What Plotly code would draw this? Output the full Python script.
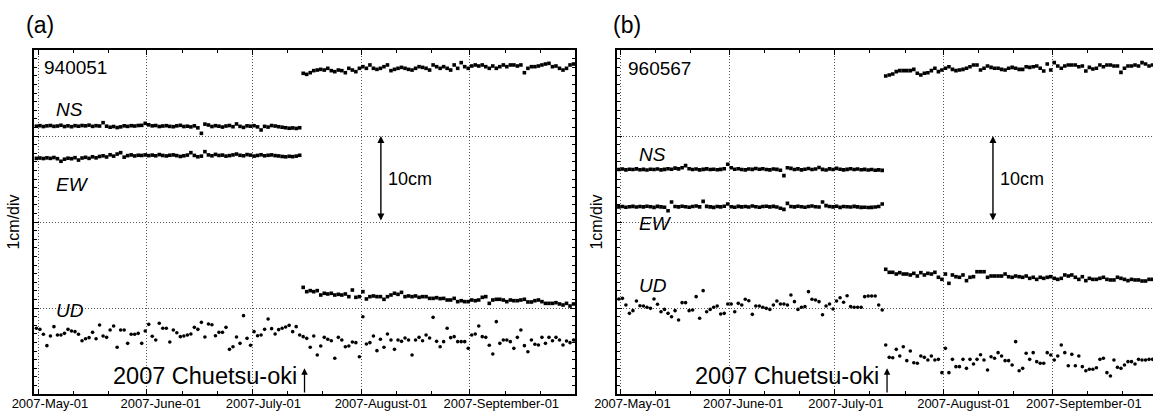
import pandas as pd
import plotly.graph_objects as go

# Daily GPS coordinates (cm, each component with its own offset)
PRE_START = "2007-04-30 12:00"
POST_START = "2007-07-15 12:00"
QUAKE = "2007-07-15 21:00"

stations = ["940051", "960567"]

# ---- station 940051 (a)
ns_pre_a = [31.14, 31.20, 31.10, 31.18, 31.22, 31.12, 31.16, 31.25, 31.10, 31.18,
            31.08, 31.20, 31.14, 31.22, 31.18, 31.26, 31.12, 31.20, 31.16, 31.55,
            31.14, 31.02, 31.10, 30.98, 31.06, 31.18, 31.12, 31.20, 31.16, 31.22,
            31.24, 31.47, 31.30, 31.18, 31.22, 31.10, 31.16, 31.20, 31.12, 31.08,
            31.18, 31.24, 31.10, 31.14, 31.06, 31.18, 30.95, 30.31, 31.38, 31.28,
            31.10, 31.20, 31.14, 31.04, 31.16, 31.22, 31.08, 31.40, 31.12, 31.00,
            31.18, 31.14, 31.20, 31.06, 30.70, 31.12, 31.04, 31.22, 31.16, 31.08,
            31.02, 30.96, 30.90, 30.94, 30.88, 30.96]
ew_pre_a = [27.40, 27.44, 27.38, 27.46, 27.40, 27.50, 27.36, 27.06, 27.30, 27.42,
            27.36, 27.48, 27.20, 27.44, 27.52, 27.40, 27.58, 27.46, 27.62, 27.70,
            27.56, 27.82, 27.66, 27.90, 28.06, 27.54, 27.72, 27.80, 27.68, 27.76,
            27.74, 27.80, 27.72, 27.78, 27.70, 27.84, 27.74, 27.68, 27.76, 27.80,
            27.72, 27.62, 27.70, 27.78, 28.06, 27.74, 27.58, 27.66, 28.18, 27.80,
            27.70, 27.86, 27.74, 27.78, 27.66, 27.72, 27.80, 27.90, 27.76, 27.70,
            27.84, 27.78, 27.66, 27.74, 27.82, 27.70, 27.76, 27.80, 27.72, 27.68,
            27.62, 27.58, 27.64, 27.60, 27.66, 27.76]
ud_pre_a = [7.64, 7.52, 6.94, 5.62, 6.74, 7.83, 6.86, 6.86, 7.05, 7.52,
            7.33, 7.25, 6.94, 6.20, 6.43, 6.55, 7.17, 6.43, 8.02, 6.74,
            6.59, 7.44, 7.91, 5.43, 7.44, 7.44, 5.89, 6.94, 6.94, 7.05,
            5.89, 7.33, 8.10, 6.71, 6.28, 8.22, 7.64, 7.64, 6.05, 7.44,
            7.13, 6.67, 6.74, 6.86, 6.98, 7.75, 7.52, 8.33, 6.63, 8.14,
            8.06, 6.78, 7.17, 7.17, 7.75, 5.19, 5.50, 6.63, 5.89, 9.11,
            6.47, 5.66, 7.25, 6.78, 6.86, 7.52, 8.72, 7.60, 6.98, 7.48,
            7.64, 7.79, 7.98, 7.25, 7.83, 6.86]
ns_post_a = [37.29, 37.17, 37.36, 37.60, 37.67, 37.75, 37.67, 37.87, 37.60, 37.48,
             37.67, 37.60, 37.36, 37.87, 37.67, 37.48, 37.87, 38.06, 37.87, 38.26,
             37.87, 37.75, 37.87, 38.06, 38.26, 37.60, 37.75, 37.87, 37.98, 37.87,
             37.75, 37.67, 37.87, 38.06, 37.98, 37.87, 37.67, 38.26, 38.06, 37.87,
             38.06, 37.87, 37.67, 38.26, 37.87, 38.53, 38.06, 37.87, 38.14, 38.26,
             38.14, 38.26, 38.06, 37.87, 38.14, 37.87, 38.06, 38.26, 38.06, 38.26,
             38.26, 38.14, 38.26, 37.36, 37.87, 38.06, 38.06, 38.14, 38.26, 38.37,
             38.45, 38.06, 38.14, 37.87, 37.67, 37.87, 38.26, 38.37]
ew_post_a = [12.40, 11.90, 12.02, 11.90, 12.02, 11.51, 11.71, 11.63, 11.71, 11.51,
             11.59, 11.51, 11.63, 11.32, 12.09, 11.24, 11.32, 11.90, 11.05, 11.32,
             11.40, 11.32, 11.32, 11.01, 11.32, 11.51, 11.71, 11.59, 11.82, 11.32,
             11.40, 11.32, 11.40, 11.24, 11.32, 11.32, 11.12, 11.12, 11.20, 11.09,
             11.12, 10.93, 10.93, 11.12, 10.74, 10.85, 10.74, 10.74, 10.93, 10.85,
             10.93, 11.24, 11.32, 10.54, 10.93, 11.01, 11.01, 10.93, 10.74, 10.93,
             10.85, 10.85, 10.93, 11.01, 10.70, 10.70, 10.85, 10.93, 10.74, 10.54,
             10.54, 10.54, 10.62, 10.47, 10.35, 10.54, 10.23, 10.47]
ud_post_a = [6.67, 6.47, 5.43, 6.74, 4.53, 5.58, 6.59, 6.36, 6.20, 4.15,
             6.59, 6.28, 5.50, 5.58, 6.05, 5.97, 4.34, 8.99, 5.81, 5.97,
             6.74, 5.04, 6.36, 5.43, 6.98, 6.28, 5.19, 6.28, 6.12, 6.51,
             6.28, 4.53, 6.28, 6.59, 6.20, 6.86, 6.51, 8.91, 6.12, 5.50,
             6.09, 7.64, 6.55, 6.67, 6.09, 6.09, 6.09, 5.31, 6.86, 6.98,
             7.91, 6.67, 6.59, 5.66, 4.65, 8.41, 5.89, 6.28, 6.28, 6.09,
             5.31, 6.59, 7.44, 5.62, 4.92, 6.28, 5.78, 5.70, 6.59, 5.89,
             6.59, 6.20, 6.59, 6.28, 5.70, 6.16, 5.97, 6.28]

# ---- station 960567 (b)
ns_pre_b = [26.10, 26.16, 26.06, 26.14, 26.10, 26.18, 26.08, 26.12, 26.04, 26.14,
            26.10, 26.16, 26.06, 26.12, 26.20, 26.14, 26.26, 26.18, 26.30, 26.55,
            26.20, 26.10, 26.16, 26.06, 26.12, 26.18, 26.10, 26.14, 26.08, 26.12,
            26.20, 26.71, 26.30, 26.14, 26.20, 26.10, 26.06, 26.16, 26.12, 26.22,
            26.14, 26.20, 26.10, 26.06, 26.16, 26.12, 26.02, 25.39, 26.30, 26.24,
            26.10, 26.18, 26.06, 26.14, 26.22, 26.10, 26.16, 26.34, 26.12, 26.04,
            26.18, 26.10, 26.24, 26.14, 26.06, 26.12, 26.20, 26.10, 26.16, 26.08,
            26.12, 26.04, 26.10, 26.02, 26.06, 26.00]
ew_pre_b = [21.76, 21.80, 21.72, 21.78, 21.82, 21.74, 21.80, 21.76, 21.84, 21.78,
            21.70, 21.82, 21.76, 21.72, 21.30, 22.33, 21.80, 21.76, 21.84, 21.78,
            21.72, 21.80, 21.86, 21.76, 22.40, 21.82, 21.76, 21.70, 21.80, 21.76,
            21.84, 22.10, 21.78, 21.72, 21.82, 21.76, 21.80, 21.74, 21.86, 21.78,
            21.72, 21.80, 21.84, 21.76, 21.82, 21.74, 21.60, 21.47, 22.17, 21.80,
            21.76, 21.84, 21.78, 21.72, 21.80, 21.86, 21.78, 21.74, 22.33, 21.90,
            21.80, 21.76, 21.84, 21.70, 21.80, 21.78, 21.74, 21.82, 21.76, 21.70,
            21.72, 21.68, 21.70, 21.74, 21.80, 22.10]
ud_pre_b = [11.05, 11.12, 10.35, 9.38, 9.69, 10.81, 10.27, 10.23, 10.08, 9.96,
            11.05, 10.43, 9.57, 9.84, 9.38, 8.99, 9.69, 8.60, 10.62, 10.62,
            9.69, 9.77, 11.32, 8.80, 12.02, 9.57, 9.84, 10.08, 10.23, 9.30,
            9.38, 10.47, 10.47, 9.57, 10.54, 10.35, 11.01, 10.85, 9.26, 10.23,
            10.23, 10.08, 9.96, 9.84, 10.35, 10.81, 10.47, 10.47, 10.35, 11.51,
            10.74, 9.84, 10.08, 10.16, 11.90, 11.01, 10.93, 10.74, 9.22, 10.23,
            10.47, 9.88, 10.81, 11.20, 10.66, 11.43, 10.16, 10.08, 10.08, 10.08,
            11.32, 11.40, 11.40, 11.40, 10.35, 9.77]
ns_post_b = [36.98, 37.09, 37.21, 37.48, 37.60, 37.60, 37.60, 37.60, 37.75, 37.29,
             37.09, 37.29, 37.36, 37.60, 37.87, 37.48, 37.67, 37.87, 38.06, 37.75,
             37.60, 37.67, 37.75, 37.87, 38.06, 38.26, 38.26, 37.67, 37.87, 38.14,
             37.98, 37.87, 37.87, 37.75, 37.67, 37.87, 37.98, 37.87, 37.75, 37.75,
             38.06, 37.98, 38.06, 38.14, 37.87, 37.56, 38.37, 37.67, 38.53, 38.14,
             37.87, 38.14, 38.26, 38.26, 38.26, 38.06, 38.14, 37.56, 37.98, 37.79,
             37.87, 38.26, 38.06, 38.26, 38.26, 38.14, 38.14, 37.40, 37.87, 38.14,
             38.14, 38.26, 38.14, 38.53, 38.37, 38.14, 38.26, 38.20]
ew_post_b = [14.50, 14.15, 14.15, 13.95, 14.11, 13.95, 13.95, 13.84, 14.03, 13.72,
             14.11, 13.84, 14.03, 13.95, 14.15, 13.57, 13.33, 13.95, 12.87, 13.84,
             13.64, 13.57, 13.84, 13.18, 13.57, 13.64, 14.22, 14.22, 14.22, 13.57,
             13.72, 13.72, 13.72, 13.72, 13.95, 13.64, 13.57, 13.72, 13.64, 13.57,
             13.72, 13.45, 13.57, 13.33, 13.57, 13.45, 13.57, 13.64, 13.45, 13.33,
             13.45, 13.84, 13.72, 13.84, 13.57, 13.33, 13.64, 13.18, 13.45, 13.33,
             13.33, 13.45, 13.57, 13.33, 13.26, 13.26, 13.57, 13.45, 13.33, 13.18,
             13.33, 13.26, 13.26, 13.14, 13.14, 13.33, 13.33, 13.26]
ud_post_b = [5.70, 4.26, 4.22, 5.19, 4.42, 5.50, 3.88, 5.00, 3.64, 3.57,
             4.42, 4.26, 3.95, 4.42, 3.95, 4.03, 2.48, 5.31, 2.48, 4.03,
             3.18, 3.18, 4.03, 2.98, 4.03, 3.49, 4.03, 4.57, 3.95, 2.79,
             4.34, 4.15, 4.81, 4.42, 3.88, 3.88, 3.37, 6.09, 2.71, 2.98,
             4.73, 4.03, 4.81, 3.76, 3.57, 3.57, 4.81, 4.53, 3.95, 4.42,
             5.70, 4.81, 3.29, 4.61, 3.29, 4.42, 3.18, 2.71, 2.87, 2.87,
             3.06, 4.03, 4.15, 2.48, 2.09, 3.95, 3.10, 2.98, 3.37, 3.76,
             3.76, 3.49, 4.03, 3.95, 3.95, 4.03, 4.03, 4.10]

tick_dates = ["2007-05-01", "2007-06-01", "2007-07-01", "2007-08-01", "2007-09-01"]
tick_text = ["2007-May-01", "2007-June-01", "2007-July-01", "2007-August-01", "2007-September-01"]
minor_dates = ["2007-05-11", "2007-05-21", "2007-06-11", "2007-06-21", "2007-07-11",
               "2007-07-21", "2007-08-11", "2007-08-21", "2007-09-11", "2007-09-21"]
scale_bar_dates = ["2007-08-06 15:00", "2007-08-15 01:00"]  # where the 10cm bar sits

panels = [
    dict(ns=(ns_pre_a, ns_post_a), ew=(ew_pre_a, ew_post_a), ud=(ud_pre_a, ud_post_a)),
    dict(ns=(ns_pre_b, ns_post_b), ew=(ew_pre_b, ew_post_b), ud=(ud_pre_b, ud_post_b)),
]

W, H = 1153, 412
ML, MR, MT, MB = 34, 0, 50, 18
PW, PH = W - ML - MR, H - MT - MB


def px(x, y):
    # figure pixel -> paper coords
    return (x - ML) / PW, (H - MB - y) / PH


fig = go.Figure()
for i, p in enumerate(panels):
    xa = "x" if i == 0 else "x2"
    ya = "y" if i == 0 else "y2"
    for comp in ["ns", "ew", "ud"]:
        sym = "circle" if comp == "ud" else "square"
        for vals, start in zip(p[comp], [PRE_START, POST_START]):
            dates = pd.date_range(start, periods=len(vals), freq="D")
            fig.add_trace(go.Scatter(
                x=dates, y=vals, mode="markers", xaxis=xa, yaxis=ya,
                marker=dict(symbol=sym, size=3.6, color="black", line=dict(width=0)),
                showlegend=False, hoverinfo="skip"))

font = "Liberation Sans, Arial, Helvetica, sans-serif"
grid = dict(showgrid=True, gridcolor="#555", griddash="1px,2px", gridwidth=1, zeroline=False)
xbase = dict(type="date", showline=True, linewidth=2, linecolor="black", automargin=False,
             ticks="inside", ticklen=5, tickwidth=1, tickcolor="black",
             tickmode="array", tickvals=tick_dates, ticktext=tick_text, tickangle=0,
             ticklabelposition="outside right", ticklabelshift=-28, ticklabelstandoff=-4,
             tickfont=dict(size=13, color="black"),
             minor=dict(tickmode="array", tickvals=minor_dates, ticks="inside", ticklen=3,
                        tickcolor="black", showgrid=False),
             **grid)
ybase = dict(range=[0, 40], showline=True, linewidth=2, linecolor="black", automargin=False,
             ticks="inside", ticklen=5, tickwidth=1, tickcolor="black",
             tick0=0, dtick=10, showticklabels=False,
             minor=dict(dtick=1, ticks="inside", ticklen=3, tickcolor="black", showgrid=False),
             title=dict(text="1cm/div", font=dict(size=16, color="black"), standoff=8),
             **grid)

dom_a = [0, 541 / PW]
dom_b = [(616.5 - ML) / PW, 1]
fig.update_layout(
    width=W, height=H, margin=dict(l=ML, r=MR, t=MT, b=MB, autoexpand=False),
    paper_bgcolor="white", plot_bgcolor="white",
    font=dict(family=font, color="black"),
    xaxis=dict(domain=dom_a, range=["2007-04-29 19:40", "2007-09-30 22:00"],
               mirror="ticks", anchor="y", **xbase),
    xaxis2=dict(domain=dom_b, range=["2007-04-29 19:40", "2007-09-29 15:00"],
                mirror="ticks", anchor="y2", **xbase),
    yaxis=dict(domain=[0, 1], anchor="x", mirror="ticks", **ybase),
    yaxis2=dict(domain=[0, 1], anchor="x2", mirror=False, **ybase),
)

anns = []


def text_at(x, y, txt, size, anchor="left"):
    px_, py_ = px(x, y)
    anns.append(dict(x=px_, y=py_, xref="paper", yref="paper", text=txt, showarrow=False,
                     xanchor=anchor, yanchor="middle", font=dict(size=size, color="black")))


# panel letters, station codes, component names
text_at(24, 25, "(a)", 23)
text_at(611, 25, "(b)", 23)
text_at(42, 67, stations[0], 19)
text_at(626, 68, stations[1], 19)
for x0, ys in [(54, (109, 184, 310)), (637, (154, 223, 285))]:
    for name, yy in zip(["NS", "EW", "UD"], ys):
        text_at(x0, yy, "<i>%s</i>" % name, 19)

for i, (xa, ya) in enumerate([("x", "y"), ("x2", "y2")]):
    # earthquake marker
    anns.append(dict(x=QUAKE, y=3.0, ax=QUAKE, ay=0, xref=xa, yref=ya, axref=xa, ayref=ya,
                     showarrow=True, arrowhead=2, arrowsize=1, arrowwidth=1.3,
                     arrowcolor="black", text=""))
    anns.append(dict(x=QUAKE, y=px(0, 376)[1], xref=xa, yref="paper", xshift=-6,
                     text="2007 Chuetsu-oki", showarrow=False, xanchor="right",
                     yanchor="middle", font=dict(size=23.5, color="black")))
    # 10 cm scale bar
    d = scale_bar_dates[i]
    anns.append(dict(x=d, y=30, ax=d, ay=20, xref=xa, yref=ya, axref=xa, ayref=ya,
                     showarrow=True, arrowhead=2, arrowside="end+start", arrowsize=1,
                     arrowwidth=1.4, arrowcolor="black", text=""))
    anns.append(dict(x=d, y=25, xref=xa, yref=ya, xshift=5, text="10cm", showarrow=False,
                     xanchor="left", yanchor="middle", font=dict(size=18, color="black")))

fig.update_layout(annotations=anns)
# the page's default 8px body margin would shift the whole figure
fig.write_html("out.html", config={"displayModeBar": False},
               post_script="document.body.style.margin='0';document.body.style.overflow='hidden';")
